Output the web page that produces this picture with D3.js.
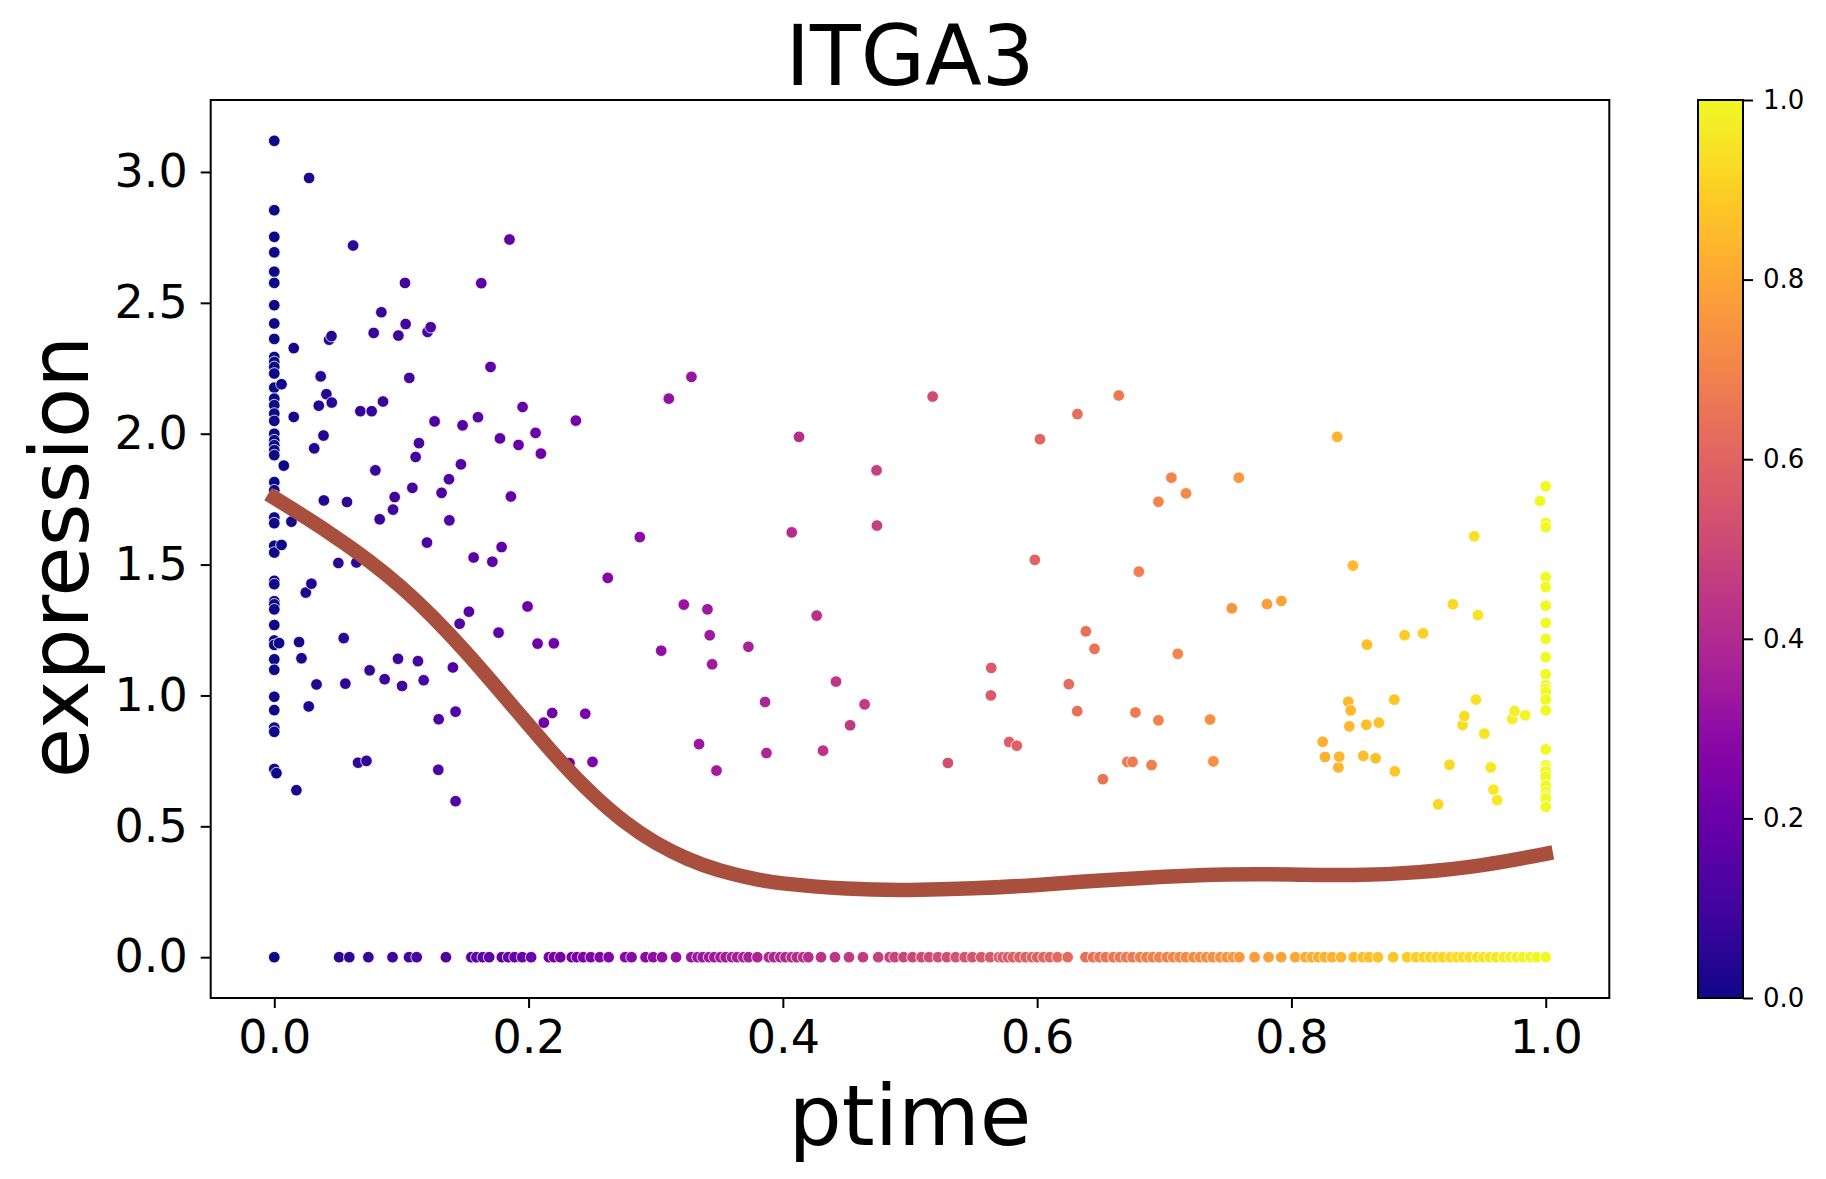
<!DOCTYPE html>
<html>
<head>
<meta charset="utf-8">
<script src="https://cdn.jsdelivr.net/npm/d3@7"></script>
<style>
  html, body { margin: 0; padding: 0; background: #ffffff; }
  svg { display: block; }
  text { font-family: "DejaVu Sans", sans-serif; fill: #000; }
</style>
</head>
<body>
<svg id="chart" width="1826" height="1179"></svg>
<script>
// ---------------- DATA ----------------
const title = "ITGA3";
const xLabel = "ptime";
const yLabel = "expression";

// cells with ptime = 0 (left column)
const col0Expr = [3.119, 2.854, 2.752, 2.693, 2.619, 2.576, 2.491, 2.421, 2.362, 2.293, 2.274, 2.255, 2.230,
  2.176, 2.134, 2.109, 2.077, 2.049, 2.000, 1.975, 1.956, 1.937, 1.918, 1.815, 1.784, 1.763, 1.680, 1.658,
  1.572, 1.546, 1.438, 1.425, 1.360, 1.348, 1.329, 1.269, 1.210, 1.193, 1.138, 1.098, 0.995, 0.944, 0.877,
  0.861, 0.719];

// cells with ptime = 1 (right column)
const col1Expr = [1.799, 1.659, 1.643, 1.452, 1.414, 1.343, 1.277, 1.216, 1.146, 1.081, 1.039, 1.025, 1.013,
  0.984, 0.943, 0.794, 0.733, 0.720, 0.710, 0.690, 0.656, 0.631, 0.615, 0.606, 0.574];

// other expressing cells: ptime values and matching expression values
const scatPtime = [0.0017, 0.0057, 0.0038, 0.0135, 0.039, 0.0572, 0.0829, 0.0934, 0.1086, 0.0504, 0.0646, 0.088,
  0.0292, 0.0248, 0.0195, 0.0214, 0.0546, 0.0332, 0.0559, 0.075, 0.0868, 0.0973, 0.1005, 0.113, 0.1175, 0.0271,
  0.0659, 0.0725, 0.0174,
  0.0274, 0.062, 0.1028, 0.0842, 0.1033, 0.0431, 0.045, 0.0782, 0.0976, 0.0153, 0.0365, 0.1062, 0.0057, 0.041,
  0.035, 0.0452, 0.0855, 0.0677, 0.0766, 0.0153, 0.0387, 0.0314, 0.0075, 0.0795, 0.1138, 0.1112, 0.0947,
  0.185, 0.1628, 0.1206, 0.123, 0.1701, 0.3281, 0.3103, 0.1953, 0.2372, 0.1261, 0.1481, 0.1602, 0.2055, 0.1775,
  0.1921, 0.2097, 0.1468, 0.4127, 0.4737, 0.1374, 0.1316, 0.1861, 0.1377, 0.1201, 0.1788, 0.2875, 0.4070, 0.4740,
  0.1568, 0.1715, 0.2623, 0.1531, 0.1458, 0.1992, 0.1764, 0.2071, 0.2199, 0.3221, 0.3407, 0.3425, 0.3043, 0.3729,
  0.3444, 0.4266, 0.4418, 0.386, 0.4643, 0.4529, 0.4316, 0.3871, 0.3341, 0.3478, 0.1405, 0.1293, 0.1426, 0.129,
  0.1426, 0.2186, 0.212, 0.2446, 0.2322, 0.2503,
  0.5178, 0.6642, 0.6317, 0.6022, 0.7056, 0.7586, 0.7171, 0.6954, 0.836, 0.5982, 0.68, 0.8484, 0.7531, 0.7808,
  0.7921, 0.6383, 0.6451, 0.7106, 0.8594, 0.5639, 0.5636, 0.6249, 0.6315, 0.6773, 0.6954, 0.736, 0.578, 0.584,
  0.5298, 0.671, 0.675, 0.690, 0.7386, 0.6517, 0.8447, 0.8466, 0.8455, 0.8589, 0.8688, 0.8246, 0.8264, 0.8376,
  0.8369, 0.8565, 0.8662,
  0.927, 0.9467, 0.889, 0.9035, 0.8809, 0.9451, 0.936, 0.9346, 0.9755, 0.9737, 0.9839, 0.9517, 0.8813, 0.9243,
  0.9568, 0.9589, 0.9618, 0.9154, 0.9955, 0.9438];
const scatExpr = [0.703, 1.575, 1.20, 1.664, 1.745, 1.739, 1.673, 1.71, 1.793, 1.506, 1.508, 1.467,
  1.427, 1.393, 1.204, 1.142, 1.219, 1.042, 1.045, 1.096, 1.062, 1.140, 1.036, 1.131, 1.058, 0.958,
  0.743, 0.75, 0.638,
  2.977, 2.719, 2.576, 2.464, 2.419, 2.359, 2.373, 2.385, 2.375, 2.327, 2.219, 2.213, 2.189, 2.151,
  2.107, 2.119, 2.123, 2.086, 2.086, 2.064, 1.993, 1.944, 1.878, 1.860, 1.964, 1.911, 1.758,
  2.742, 2.575, 2.389, 2.407, 2.255, 2.217, 2.134, 2.102, 2.050, 2.047, 2.032, 2.063, 2.003, 1.982,
  1.957, 1.924, 1.883, 1.988, 1.860, 1.826, 1.774, 1.760, 1.669, 1.584, 1.567, 1.605, 1.623, 1.649,
  1.527, 1.511, 1.449, 1.320, 1.274, 1.340, 1.240, 1.198, 1.199, 1.347, 1.329, 1.230, 1.171, 1.186,
  1.119, 1.305, 1.053, 0.975, 0.966, 0.886, 0.789, 0.780, 0.814, 0.713, 1.107, 0.909, 0.938, 0.716,
  0.596, 0.933, 0.896, 0.930, 0.742, 0.746,
  2.142, 2.146, 2.075, 1.979, 1.832, 1.832, 1.772, 1.740, 1.988, 1.518, 1.473, 1.496, 1.333, 1.349,
  1.361, 1.245, 1.178, 1.159, 1.194, 1.105, 1.000, 1.043, 0.940, 0.935, 0.905, 0.908, 0.822, 0.808,
  0.742, 0.746, 0.746, 0.734, 0.748, 0.680, 0.976, 0.943, 0.882, 0.888, 0.896, 0.823, 0.765, 0.766,
  0.725, 0.769, 0.760,
  1.348, 1.307, 1.230, 1.237, 0.984, 0.984, 0.921, 0.887, 0.940, 0.910, 0.924, 0.854, 0.710, 0.735,
  0.725, 0.640, 0.600, 0.584, 1.743, 1.608];

// non-expressing cells (expression = 0): ptime values
const zeroPtime = [0, 0.051, 0.059, 0.074, 0.093, 0.106, 0.112, 0.135, 0.155, 0.159, 0.164, 0.169, 0.179, 0.184,
  0.189, 0.195, 0.202, 0.216, 0.220, 0.225, 0.234, 0.238, 0.243, 0.249, 0.256, 0.263, 0.276, 0.281, 0.292,
  0.298, 0.305, 0.316, 0.328, 0.333, 0.337, 0.342, 0.346, 0.351, 0.355, 0.360, 0.364, 0.369, 0.373, 0.380,
  0.389, 0.393, 0.398, 0.402, 0.407, 0.411, 0.416, 0.420, 0.430, 0.441, 0.452, 0.463, 0.475, 0.484, 0.488,
  0.495, 0.502, 0.509, 0.515, 0.522, 0.529, 0.536, 0.543, 0.549, 0.556, 0.563, 0.570, 0.573, 0.577, 0.581,
  0.586, 0.591, 0.596, 0.600, 0.605, 0.610, 0.616, 0.624, 0.638, 0.644, 0.649, 0.654, 0.660, 0.665, 0.670,
  0.675, 0.681, 0.686, 0.691, 0.696, 0.702, 0.707, 0.712, 0.717, 0.723, 0.728, 0.733, 0.738, 0.744, 0.749,
  0.754, 0.759, 0.771, 0.782, 0.792, 0.803, 0.811, 0.816, 0.821, 0.826, 0.832, 0.839, 0.849, 0.856, 0.861,
  0.868, 0.880, 0.891, 0.898, 0.904, 0.909, 0.914, 0.919, 0.925, 0.930, 0.935, 0.940, 0.946, 0.951, 0.956,
  0.961, 0.967, 0.972, 0.977, 0.982, 0.988, 0.993, 1.0];

// smoothed trend curve
const curvePtime = [0, 0.025, 0.05, 0.075, 0.10, 0.125, 0.15, 0.175, 0.20, 0.225, 0.25, 0.275, 0.30, 0.325,
  0.35, 0.375, 0.40, 0.45, 0.50, 0.55, 0.60, 0.65, 0.70, 0.75, 0.80, 0.85, 0.90, 0.95, 1.0];
const curveExpr = [1.755, 1.679, 1.599, 1.512, 1.413, 1.298, 1.169, 1.030, 0.888, 0.749, 0.624, 0.519, 0.437,
  0.376, 0.332, 0.302, 0.282, 0.262, 0.257, 0.263, 0.276, 0.293, 0.307, 0.316, 0.316, 0.314, 0.325, 0.352, 0.395];

const yTicks = [0.0, 0.5, 1.0, 1.5, 2.0, 2.5, 3.0];
const xTicks = [0.0, 0.2, 0.4, 0.6, 0.8, 1.0];
const cbarTicks = [0.0, 0.2, 0.4, 0.6, 0.8, 1.0];

// ---------------- BUILD ----------------
const points = [];
col0Expr.forEach(e => points.push({t: 0, e: e}));
scatPtime.forEach((t, i) => points.push({t: t, e: scatExpr[i]}));
col1Expr.forEach(e => points.push({t: 1, e: e}));
zeroPtime.forEach(t => points.push({t: t, e: 0}));
points.sort((a, b) => a.t - b.t);

const svg = d3.select("#chart");
const L = 210.7, R = 1609.3, T = 100, B = 998;

const xExt = d3.extent(points, d => d.t);
const yExt = d3.extent(points, d => d.e);
const xPad = (xExt[1] - xExt[0]) * 0.05, yPad = (yExt[1] - yExt[0]) * 0.05;
const x = d3.scaleLinear().domain([xExt[0] - xPad, xExt[1] + xPad]).range([L, R]);
const y = d3.scaleLinear().domain([yExt[0] - yPad, yExt[1] + yPad]).range([B, T]);
const color = d3.scaleSequential(d3.interpolatePlasma).domain([0, 1]);

svg.append("rect").attr("width", 1826).attr("height", 1179).attr("fill", "#fff");

// points
svg.append("g").selectAll("circle").data(points).join("circle")
  .attr("cx", d => x(d.t)).attr("cy", d => y(d.e)).attr("r", 5.8)
  .attr("fill", d => color(d.t)).attr("stroke", "#fff").attr("stroke-width", 0.8);

// trend curve
const curveData = curvePtime.map((t, i) => [t, curveExpr[i]]);
svg.append("path").datum(curveData)
  .attr("d", d3.line().x(d => x(d[0])).y(d => y(d[1])).curve(d3.curveNatural))
  .attr("fill", "none").attr("stroke", "#a94f3d").attr("stroke-width", 14.5)
  .attr("stroke-linecap", "square").attr("stroke-linejoin", "round");

// axes
const xAxis = svg.append("g").attr("transform", `translate(0,${B})`)
  .call(d3.axisBottom(x).tickValues(xTicks).tickFormat(d3.format(".1f")).tickSize(10).tickPadding(12).tickSizeOuter(0));
const yAxis = svg.append("g").attr("transform", `translate(${L},0)`)
  .call(d3.axisLeft(y).tickValues(yTicks).tickFormat(d3.format(".1f")).tickSize(10).tickPadding(13).tickSizeOuter(0));
[xAxis, yAxis].forEach(g => {
  g.select(".domain").remove();
  g.selectAll(".tick line").attr("stroke", "#000").attr("stroke-width", 2);
  g.selectAll(".tick text").attr("font-size", 46).attr("font-family", "DejaVu Sans").attr("fill", "#000");
});

// frame
svg.append("rect").attr("x", L).attr("y", T).attr("width", R - L).attr("height", B - T)
  .attr("fill", "none").attr("stroke", "#000").attr("stroke-width", 2);

// labels
svg.append("text").attr("x", (L + R) / 2).attr("y", 1145).attr("text-anchor", "middle")
  .attr("font-size", 84).text(xLabel);
svg.append("text").attr("transform", `translate(88,557) rotate(-90)`).attr("text-anchor", "middle")
  .attr("font-size", 82).text(yLabel);
svg.append("text").attr("x", (L + R) / 2).attr("y", 85).attr("text-anchor", "middle")
  .attr("font-size", 83).text(title);

// colorbar
const cbL = 1698, cbR = 1743;
const defs = svg.append("defs");
const grad = defs.append("linearGradient").attr("id", "plasma").attr("x1", 0).attr("y1", 1).attr("x2", 0).attr("y2", 0);
d3.range(0, 1.0001, 0.02).forEach(v => grad.append("stop").attr("offset", v).attr("stop-color", color(v)));
const cy = d3.scaleLinear().domain([0, 1]).range([B, T]);
svg.append("rect").attr("x", cbL).attr("y", T).attr("width", cbR - cbL).attr("height", B - T)
  .attr("fill", "url(#plasma)").attr("stroke", "#000").attr("stroke-width", 2);
const cAxis = svg.append("g").attr("transform", `translate(${cbR},0)`)
  .call(d3.axisRight(cy).tickValues(cbarTicks).tickFormat(d3.format(".1f")).tickSize(10).tickPadding(10).tickSizeOuter(0));
cAxis.select(".domain").remove();
cAxis.selectAll(".tick line").attr("stroke", "#000").attr("stroke-width", 2);
cAxis.selectAll(".tick text").attr("font-size", 26).attr("font-family", "DejaVu Sans").attr("fill", "#000");
</script>
</body>
</html>
